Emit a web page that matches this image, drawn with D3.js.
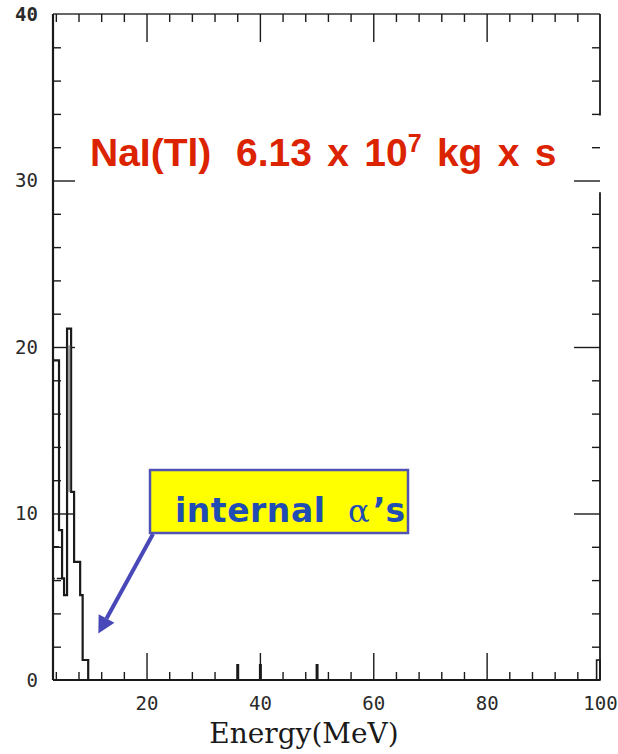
<!DOCTYPE html>
<html><head><meta charset="utf-8">
<script src="https://cdn.jsdelivr.net/npm/d3@7"></script>
<style>
html,body{margin:0;padding:0;background:#fff;}
svg{display:block;}
</style></head>
<body>
<svg id="chart" width="618" height="754"></svg>
<script>
// ---- data ----
const xDomain = [3.5, 100];
const yDomain = [0, 40];
const binEdges  = [3.5, 4.56, 5.10, 5.45, 5.98, 6.69, 7.22, 8.29, 8.73, 9.71];
const binCounts = [19.2, 9.0, 6.1, 5.1, 21.1, 11.3, 7.1, 5.1, 1.2];
const innerEdges = [3.5, 5.1];
const innerLevels = [8.0, 6.1];
const overflowEdges = [99.4, 100];
const overflowCounts = [1.2];
const xLabelTicks = [20, 40, 60, 80, 100];
const xMajorTicks = [20, 40, 60, 80];
const xMinorTicks = [4, 8, 12, 16, 24, 28, 32, 36, 44, 48, 52, 56, 64, 68, 72, 76, 84, 88, 92, 96];
const xBoldTicks = [36, 40, 50];
const yLabelTicks = [0, 10, 20, 30, 40];
const yMajorTicks = [10, 20, 30];
const yMinorTicks = [2, 4, 6, 8, 12, 14, 16, 18, 22, 24, 26, 28, 32, 34, 36, 38];
const rightGap = [29.3, 33.9];
const arrowTip = [11.5, 2.8];
const titleParts = ["NaI(Tl)", "6.13 x 10", "7", " kg x s"];
const annoText = ["internal", "\u03b1", "\u2019s"];
const xTitle = "Energy(MeV)";

// ---- layout ----
const svg = d3.select("#chart");
const L = 53, R = 600, T = 14, B = 680;
const x = d3.scaleLinear().domain(xDomain).range([L, R]);
const y = d3.scaleLinear().domain(yDomain).range([B, T]);
const ink = "#1a1a1a";

// frame
const frame = svg.append("g").attr("stroke", ink).attr("fill", "none");
frame.append("line").attr("x1", x(xDomain[0])).attr("x2", x(xDomain[1])).attr("y1", y(0)).attr("y2", y(0)).attr("stroke-width", 2.2);
frame.append("line").attr("x1", x(xDomain[0])).attr("x2", x(xDomain[1])).attr("y1", y(40)).attr("y2", y(40)).attr("stroke-width", 1.6).attr("stroke", "#333");
frame.append("line").attr("x1", x(xDomain[0])).attr("x2", x(xDomain[0])).attr("y1", y(0)).attr("y2", y(40)).attr("stroke-width", 2.2);
frame.append("line").attr("x1", x(100)).attr("x2", x(100)).attr("y1", y(0)).attr("y2", y(rightGap[0])).attr("stroke-width", 1.8);
frame.append("line").attr("x1", x(100)).attr("x2", x(100)).attr("y1", y(rightGap[1])).attr("y2", y(40)).attr("stroke-width", 1.8);

function styleAxis(g){
  g.select(".domain").remove();
  g.selectAll(".tick line").attr("stroke", ink).attr("stroke-width", 1.4);
  g.selectAll("text").attr("fill", "#2a2a2a").attr("font-family", "'DejaVu Sans Mono', monospace").attr("font-size", 19);
}
// bottom
svg.append("g").attr("transform", `translate(0,${B})`)
  .call(d3.axisBottom(x).tickValues(xMinorTicks).tickSize(-8).tickFormat("")).call(styleAxis);
svg.append("g").attr("transform", `translate(0,${B})`)
  .call(d3.axisBottom(x).tickValues(xMajorTicks).tickSize(-27).tickFormat("")).call(styleAxis);
svg.append("g").attr("transform", `translate(0,${B})`)
  .call(d3.axisBottom(x).tickValues(xBoldTicks).tickSize(-16).tickFormat("")).call(styleAxis)
  .selectAll(".tick line").attr("stroke-width", 3);
svg.append("g").attr("transform", `translate(0,${B})`)
  .call(d3.axisBottom(x).tickValues(xLabelTicks).tickSize(0).tickPadding(16.5).tickFormat(d3.format("d"))).call(styleAxis);
// top
svg.append("g").attr("transform", `translate(0,${T})`)
  .call(d3.axisTop(x).tickValues(xMinorTicks).tickSize(-8).tickFormat("")).call(styleAxis);
svg.append("g").attr("transform", `translate(0,${T})`)
  .call(d3.axisTop(x).tickValues(xMajorTicks).tickSize(-28).tickFormat("")).call(styleAxis);
// left
svg.append("g").attr("transform", `translate(${L},0)`)
  .call(d3.axisLeft(y).tickValues(yMinorTicks).tickSize(-8).tickFormat("")).call(styleAxis);
svg.append("g").attr("transform", `translate(${L},0)`)
  .call(d3.axisLeft(y).tickValues(yMajorTicks).tickSize(-22).tickFormat("")).call(styleAxis);
const yl = svg.append("g").attr("transform", `translate(${L},0)`)
  .call(d3.axisLeft(y).tickValues(yLabelTicks).tickSize(0).tickPadding(15).tickFormat(d3.format("d"))).call(styleAxis);
yl.selectAll("text").filter(d => d === 40).attr("font-weight", "bold");
// right
svg.append("g").attr("transform", `translate(${R},0)`)
  .call(d3.axisRight(y).tickValues(yMinorTicks).tickSize(-8).tickFormat("")).call(styleAxis);
svg.append("g").attr("transform", `translate(${R},0)`)
  .call(d3.axisRight(y).tickValues(yMajorTicks).tickSize(-26).tickFormat("")).call(styleAxis);

// histogram
const histPts = binEdges.map((e, i) => [e, i < binCounts.length ? binCounts[i] : 0]);
const line = d3.line().x(d => x(d[0])).y(d => y(d[1])).curve(d3.curveStepAfter);
svg.append("path").attr("d", line(histPts)).attr("fill", "none").attr("stroke", ink).attr("stroke-width", 2.2);
// inner secondary outline
svg.append("rect").attr("x", x(innerEdges[0])).attr("y", y(innerLevels[0]))
  .attr("width", x(innerEdges[1]) - x(innerEdges[0])).attr("height", y(innerLevels[1]) - y(innerLevels[0]))
  .attr("fill", "none").attr("stroke", ink).attr("stroke-width", 1.6).attr("stroke-dasharray", "6,2");
// gray inner line of peak
svg.append("line").attr("x1", x(binEdges[5]) - 2).attr("x2", x(binEdges[5]) - 2)
  .attr("y1", y(binCounts[4] - 1)).attr("y2", y(binCounts[5])).attr("stroke", "#999").attr("stroke-width", 2.5);
// overflow bin
svg.append("rect").attr("x", x(overflowEdges[0])).attr("y", y(overflowCounts[0]))
  .attr("width", x(overflowEdges[1]) - x(overflowEdges[0])).attr("height", y(0) - y(overflowCounts[0]))
  .attr("fill", "none").attr("stroke", ink).attr("stroke-width", 1.6);

// axis title
svg.append("text").attr("x", 304).attr("y", 743).attr("text-anchor", "middle")
  .attr("font-family", "'DejaVu Serif', serif").attr("font-size", 28).attr("fill", "#1a1a1a").text(xTitle);

// chart title
const tt = svg.append("text").attr("y", 166)
  .attr("font-family", "'Liberation Sans', Arial, sans-serif").attr("font-weight", "bold")
  .attr("font-size", 39).attr("fill", "#dc2300").attr("word-spacing", 4.5)
  .style("white-space", "pre");
tt.append("tspan").attr("x", 90).text(titleParts[0]);
tt.append("tspan").attr("x", 236).text(titleParts[1]);
tt.append("tspan").attr("dy", -14).attr("font-size", 25).text(titleParts[2]);
tt.append("tspan").attr("dy", 14).text(titleParts[3]);

// annotation arrow
const ax0 = 153, ay0 = 534;
const tx = x(arrowTip[0]), ty = y(arrowTip[1]);
const ang = Math.atan2(ty - ay0, tx - ax0);
const headLen = 17, headW = 9;
const bx = tx - headLen * Math.cos(ang), by = ty - headLen * Math.sin(ang);
svg.append("line").attr("x1", ax0).attr("y1", ay0).attr("x2", bx).attr("y2", by)
  .attr("stroke", "#4848b8").attr("stroke-width", 4);
svg.append("polygon").attr("fill", "#4848b8").attr("points", [
  [tx, ty],
  [bx + headW * Math.sin(ang), by - headW * Math.cos(ang)],
  [bx - headW * Math.sin(ang), by + headW * Math.cos(ang)]
].map(p => p.join(",")).join(" "));

// annotation box
svg.append("rect").attr("x", 150).attr("y", 470).attr("width", 258).attr("height", 63)
  .attr("fill", "#ffff00").attr("stroke", "#5252b5").attr("stroke-width", 2.5);
const at = svg.append("text").attr("y", 522).attr("fill", "#1f4db4").attr("font-size", 33);
at.append("tspan").attr("x", 175).attr("font-family", "'DejaVu Sans', sans-serif").attr("font-weight", "bold")
  .attr("textLength", 150).attr("lengthAdjust", "spacing").text(annoText[0]);
at.append("tspan").attr("x", 348).attr("font-family", "'DejaVu Serif', serif").attr("font-size", 32).text(annoText[1]);
at.append("tspan").attr("x", 373).attr("font-family", "'DejaVu Sans', sans-serif").attr("font-weight", "bold").text(annoText[2]);
</script>
</body></html>
